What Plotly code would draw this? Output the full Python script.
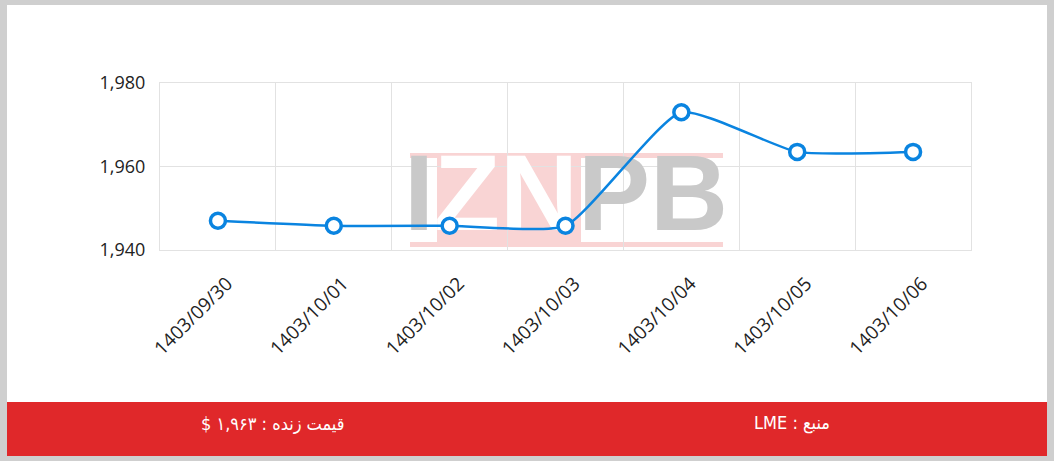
import plotly.graph_objects as go

# ---- data ----
dates = ["1403/09/30", "1403/10/01", "1403/10/02", "1403/10/03",
         "1403/10/04", "1403/10/05", "1403/10/06"]
prices = [1947, 1945.8, 1945.8, 1945.8, 1973, 1963.5, 1963.5]
y_ticks = [1940, 1960, 1980]
source_label = "منبع : LME"
live_label = "قیمت زنده : ۱,۹۶۳ $"
watermark = "I<span style='color:#ffffff'>ZN</span>PB"

# ---- geometry helpers (pixel -> axis / paper) ----
W, H = 1054, 461
L, R, T, B = 160, 83, 83, 211
PW, PH = W - L - R, H - T - B
n = len(dates)
YMIN, YMAX = 1940, 1980


def xd(px):
    return (px - L) / PW * n - 0.5


def yd(py):
    return YMIN + (T + PH - py) / PH * (YMAX - YMIN)


def xp(px):
    return (px - L) / PW


def yp(py):
    return (T + PH - py) / PH


blue = "#0a84e0"
grid = "#e2e2e2"
pink = "rgba(228,60,60,0.22)"
RLE, PDF = "\u202b", "\u202c"

fig = go.Figure()

# watermark (under the line)
fig.add_trace(go.Scatter(
    x=[xd(566)], y=[yd(203)], text=[watermark], mode="text",
    textposition="middle center",
    textfont=dict(family="Liberation Sans", size=108, color="#c9c9c9", weight="bold"),
    hoverinfo="skip", showlegend=False))

fig.add_trace(go.Scatter(
    x=list(range(n)), y=prices, mode="lines+markers",
    line=dict(color=blue, width=2.5, shape="spline", smoothing=0.5),
    marker=dict(size=15, color="white", line=dict(color=blue, width=3.5)),
    showlegend=False))

shapes = [
    dict(type="rect", xref="paper", yref="paper", x0=xp(7), x1=xp(1047),
         y0=yp(402), y1=yp(5), fillcolor="white", line=dict(width=0), layer="below"),
    dict(type="rect", xref="paper", yref="paper", x0=xp(7), x1=xp(1047),
         y0=yp(456), y1=yp(402), fillcolor="#e0282a", line=dict(width=0), layer="below"),
    dict(type="rect", xref="x", yref="y", x0=xd(437), x1=xd(581), y0=yd(247), y1=yd(153),
         fillcolor=pink, line=dict(width=0), layer="below"),
    dict(type="rect", xref="x", yref="y", x0=xd(410), x1=xd(437), y0=yd(158), y1=yd(153),
         fillcolor=pink, line=dict(width=0), layer="below"),
    dict(type="rect", xref="x", yref="y", x0=xd(410), x1=xd(437), y0=yd(247), y1=yd(242),
         fillcolor=pink, line=dict(width=0), layer="below"),
    dict(type="rect", xref="x", yref="y", x0=xd(581), x1=xd(723), y0=yd(158), y1=yd(153),
         fillcolor=pink, line=dict(width=0), layer="below"),
    dict(type="rect", xref="x", yref="y", x0=xd(581), x1=xd(723), y0=yd(247), y1=yd(242),
         fillcolor=pink, line=dict(width=0), layer="below"),
]

annotations = [
    dict(xref="paper", yref="paper", x=xp(792), y=yp(423), text=RLE + source_label + PDF,
         showarrow=False, xanchor="center", yanchor="middle",
         font=dict(family="DejaVu Sans Condensed", size=18, color="white")),
    dict(xref="paper", yref="paper", x=xp(273), y=yp(423), text=RLE + live_label + PDF,
         showarrow=False, xanchor="center", yanchor="middle",
         font=dict(family="DejaVu Sans Condensed", size=18, color="white")),
]

fig.update_layout(
    width=W, height=H,
    margin=dict(l=L, r=R, t=T, b=B, autoexpand=False),
    paper_bgcolor="#cfcfcf", plot_bgcolor="rgba(0,0,0,0)",
    shapes=shapes, annotations=annotations,
    font=dict(family="Open Sans", color="#333333"),
    xaxis=dict(range=[-0.5, n - 0.5], tickmode="array", tickvals=list(range(n)),
               ticktext=dates, tickangle=-45, showgrid=False, zeroline=False,
               showline=True, linecolor=grid, linewidth=1, mirror=True,
               ticks="", ticklabelstandoff=14, ticklabelshift=9,
               tickfont=dict(size=19, color="#222222"),
               minor=dict(tickmode="linear", tick0=-0.5, dtick=1, showgrid=True,
                          gridcolor=grid, gridwidth=1, ticks="")),
    yaxis=dict(range=[YMIN, YMAX], tickmode="array", tickvals=y_ticks,
               tickformat=",", showgrid=True, gridcolor=grid, zeroline=False,
               showline=True, linecolor=grid, linewidth=1, mirror=True,
               ticks="", ticklabelstandoff=10,
               tickfont=dict(size=18, color="#222222")),
)

fig.write_html("out.html", config={"displayModeBar": False},
               post_script="document.body.style.margin='0';document.body.style.overflow='hidden';")
